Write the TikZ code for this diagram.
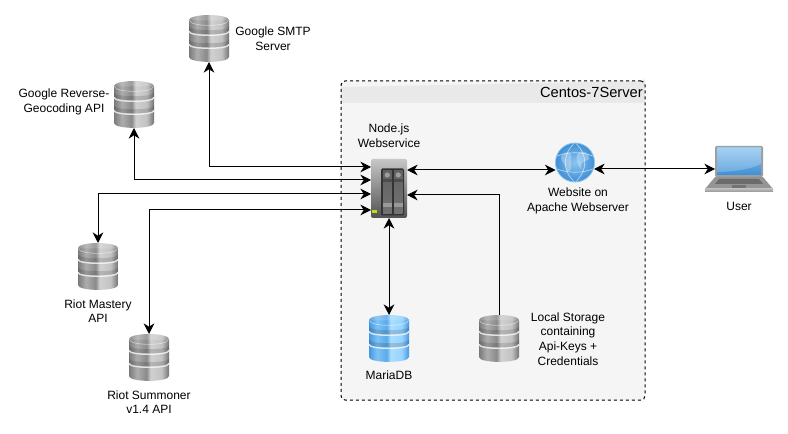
\documentclass[tikz,border=0pt]{standalone}
\usepackage{fontspec}
\setmainfont{Liberation Sans}
\usetikzlibrary{arrows.meta}
\definecolor{boxgrey}{HTML}{F5F5F5}
\definecolor{headgrey}{HTML}{E9E9E9}
\definecolor{globemid}{HTML}{8CC4EE}
\definecolor{globeedge}{HTML}{3F8FD6}
\pgfdeclarehorizontalshading{dbgrey}{100bp}{color(0bp)=(black!52); color(25bp)=(black!52); color(35bp)=(black!32); color(47bp)=(black!46); color(52bp)=(black!18); color(66bp)=(black!24); color(75bp)=(black!55); color(100bp)=(black!55)}
\pgfdeclarehorizontalshading{dbblue}{100bp}{color(0bp)=(rgb,255:red,70;green,150;blue,225); color(25bp)=(rgb,255:red,70;green,150;blue,225); color(35bp)=(rgb,255:red,125;green,195;blue,245); color(47bp)=(rgb,255:red,90;green,170;blue,235); color(52bp)=(rgb,255:red,170;green,222;blue,255); color(66bp)=(rgb,255:red,150;green,212;blue,255); color(75bp)=(rgb,255:red,70;green,150;blue,225); color(100bp)=(rgb,255:red,70;green,150;blue,225)}
\tikzset{
	link/.style={{Stealth[length=8pt,width=8pt]}-{Stealth[length=8pt,width=8pt]},line width=.75pt},
	linkone/.style={-{Stealth[length=8pt,width=8pt]},line width=.75pt},
	caption/.style={align=center,font=\fontsize{9}{11}\selectfont,inner sep=0pt},
	iconbox/.style={inner sep=0pt,outer sep=0pt},
	pics/dbstack/.style={code={
		\node[iconbox,minimum width=30pt,minimum height=35.25pt] (-box) at (0,0) {};
		\shade[shading=#1] (-20,-18) -- (-20,18.5) .. controls (-20,25) and (20,25) .. (20,18.5) -- (20,-18) -- cycle;
		\foreach \ysep in {-7,6} {
			\fill[black,opacity=.13] (-20,\ysep-5) -- (-20,\ysep) .. controls (-20,\ysep+5) and (20,\ysep+5) .. (20,\ysep) -- (20,\ysep-5) .. controls (20,\ysep) and (-20,\ysep) .. (-20,\ysep-5) -- cycle;
			\draw[white,opacity=.75,line width=1.1pt] (-20,\ysep) .. controls (-20,\ysep+5) and (20,\ysep+5) .. (20,\ysep);
		}
		\shade[shading=#1,opacity=.85] (0,-18.5) ellipse [x radius=20,y radius=5];
		\draw[white,opacity=.5,line width=.5pt] (-19.5,-18) .. controls (-19,-11.5) and (19,-11.5) .. (19.5,-18);
	}},
	pics/rackserver/.style={code={
		\node[iconbox,minimum width=27pt,minimum height=44.25pt] (-box) at (0,0) {};
		\shade[top color=black!22,bottom color=black!68,rounded corners=1.5pt] (-18,-29.5) rectangle (18,29.5);
		\fill[black!80,rounded corners=1pt] (-8,-20) rectangle (15,27);
		\foreach \xbay in {-6,5} {
			\shade[top color=black!62,bottom color=black!55] (\xbay,-18) rectangle (\xbay+8.5,25);
			\fill[black!38] (\xbay+4.25,-13.5) circle (2.6);
			\fill[black!70] (\xbay,-6) rectangle (\xbay+8.5,-9);
			\fill[black!40] (\xbay,15) rectangle (\xbay+8.5,19);
		}
		\fill[yellow!75!green] (-17.5,21.5) rectangle (-12,24.5);
	}},
	pics/globeicon/.style={code={
		\node[iconbox,circle,minimum size=29.25pt] (-box) at (0,0) {};
		\shade[inner color=globemid,outer color=globeedge] (0,0) circle (19.5);
		\fill[white,opacity=.3] (-14,-6) .. controls (-8,-14) and (-2,-10) .. (-4,-3) .. controls (-2,6) and (-6,14) .. (-9,6) .. controls (-10,0) and (-14,1) .. (-14,-6) -- cycle;
		\fill[white,opacity=.3] (3,-10) .. controls (9,-13) and (15,-9) .. (14,-3) .. controls (8,-1) and (5,1) .. (6,7) .. controls (2,3) and (0,-6) .. (3,-10) -- cycle;
		\draw[white,opacity=.6,line width=.5pt] (0,-20) .. controls (-13,-8) and (-13,8) .. (0,20) .. controls (13,8) and (13,-8) .. (0,-20);
		\draw[white,opacity=.6,line width=.5pt] (-19,-6) .. controls (-8,-11) and (8,-11) .. (19,-6);
		\draw[white,opacity=.6,line width=.5pt] (-19,6) .. controls (-8,11) and (8,11) .. (19,6);
		\draw[globemid,line width=.6pt] (0,0) circle (19.5);
	}},
	pics/laptopicon/.style={code={
		\node[iconbox,minimum width=36pt,minimum height=34.5pt] (-box) at (0,0) {};
		\fill[black!38,rounded corners=1pt] (-24,-23) rectangle (24,8);
		\shade[top color=globemid,bottom color=globeedge] (-22,-21) rectangle (22,6);
		\fill[white,opacity=.22] (-22,-21) -- (22,-21) -- (22,-5) .. controls (10,1) and (-10,3) .. (-22,3) -- cycle;
		\fill[black!42] (-24,8) -- (24,8) -- (34,20) -- (-34,20) -- cycle;
		\fill[black!58] (-20,10) -- (20,10) -- (24,15) -- (-24,15) -- cycle;
		\fill[black!55] (-7,16) rectangle (7,19.5);
		\shade[top color=black!28,bottom color=black!42] (-34,20) rectangle (34,23);
	}}
}
\begin{document}
\begin{tikzpicture}[x=.75pt,y=-.75pt]
	\useasboundingbox (0,0) rectangle (788,434);
	\node[fill=boxgrey,minimum width=228pt,minimum height=239.25pt,inner sep=0pt,outer sep=0pt,anchor=north west,rounded corners=3pt] (centos) at (341,81) {};
	\fill[headgrey] (341,103) -- (341,84) arc[start angle=180,end angle=90,radius=3] -- (642,81) arc[start angle=90,end angle=0,radius=3] -- (645,103) -- cycle;
	\node[draw,dash pattern=on 2.25pt off 2.25pt,line width=.75pt,minimum width=228pt,minimum height=239.25pt,inner sep=0pt,outer sep=0pt,anchor=north west,rounded corners=3pt] at (341,81) {};
	\node[anchor=east,font=\fontsize{11}{13}\selectfont,inner sep=0pt] (centostitle) at (643,92) {Centos-7Server};

	\pic (smtp) at (209,38.5) {dbstack=dbgrey};
	\pic (geo) at (134,104.5) {dbstack=dbgrey};
	\pic (mastery) at (98,266.5) {dbstack=dbgrey};
	\pic (summoner) at (149,357.5) {dbstack=dbgrey};
	\pic (maria) at (389,338.5) {dbstack=dbblue};
	\pic (storage) at (499,338.5) {dbstack=dbgrey};
	\pic (node) at (389,188.5) {rackserver};
	\pic (web) at (575,162.5) {globeicon};
	\pic (user) at (739,169) {laptopicon};

	\coordinate (nodesmtp) at (371,167);
	\coordinate (nodegeo) at (371,180);
	\coordinate (nodemastery) at (371,194);
	\coordinate (nodesummoner) at (371,210);
	\coordinate (nodeweb) at (407,170);
	\coordinate (nodestorage) at (407,195);
	\coordinate (webnode) at (555.5,170);
	\coordinate (webuser) at (594,169);

	\draw[link] (smtp-box.south) |- (nodesmtp);
	\draw[link] (geo-box.south) |- (nodegeo);
	\draw[link] (mastery-box.north) |- (nodemastery);
	\draw[link] (summoner-box.north) |- (nodesummoner);
	\draw[link] (nodeweb) -- (webnode);
	\draw[link] (webuser) -- (user-box.west);
	\draw[link] (node-box.south) -- (maria-box.north);
	\draw[linkone] (storage-box.north) |- (nodestorage);

	\node[caption] (smtptext) at (273,39) {Google SMTP\\ Server};
	\node[caption] (geotext) at (64,102) {Google Reverse-\\ Geocoding API};
	\node[caption] (nodetext) at (389,136) {Node.js\\ Webservice};
	\node[caption] (webtext) at (578,201) {Website on\\ Apache Webserver};
	\node[caption] (usertext) at (739,206) {User};
	\node[caption] (masterytext) at (98,311) {Riot Mastery\\ API};
	\node[caption] (summonertext) at (149,402) {Riot Summoner\\ v1.4 API};
	\node[caption] (mariatext) at (389,375) {MariaDB};
	\node[caption] (storagetext) at (568,339) {Local Storage\\ containing\\ Api-Keys +\\ Credentials};
\end{tikzpicture}
\end{document}
